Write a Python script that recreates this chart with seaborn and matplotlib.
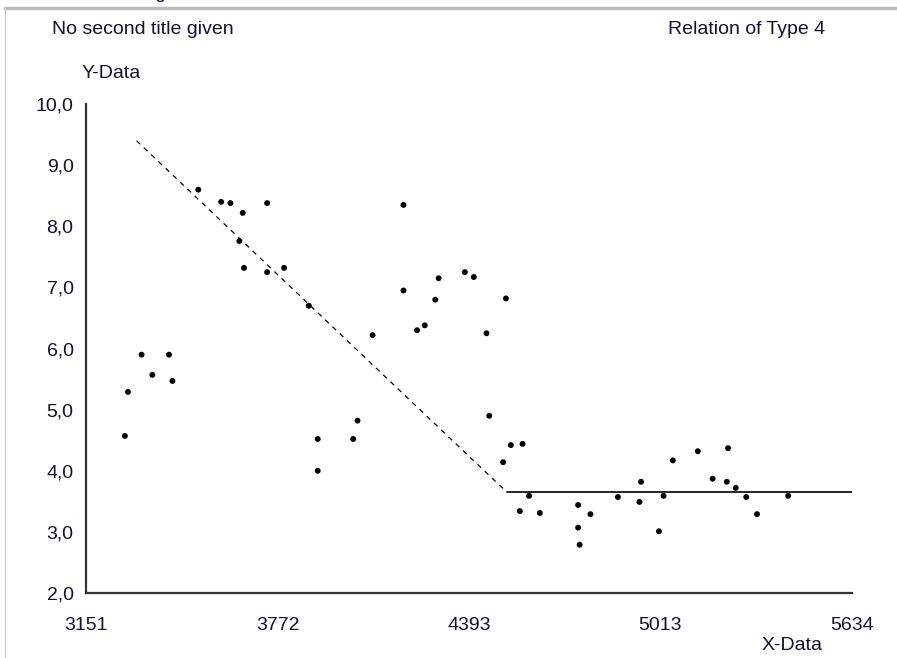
import numpy as np
import pandas as pd
import matplotlib
matplotlib.use("Agg")
import matplotlib.pyplot as plt
import matplotlib.lines as mlines
import seaborn as sns

# scatter data
x_data = [3277, 3287, 3331, 3366, 3420, 3431, 3515, 3589, 3619, 3659, 3648,
          3663, 3738, 3738, 3793, 3873, 3902, 3902, 4017, 4031, 4080, 4180,
          4180, 4224, 4249, 4283, 4294, 4379, 4408, 4449, 4512, 4458, 4503,
          4528, 4566, 4587, 4557, 4622, 4746, 4746, 4751, 4786, 4875, 4945,
          4950, 5008, 5023, 5053, 5134, 5182, 5228, 5232, 5257, 5291, 5326,
          5427]
y_data = [4.57, 5.29, 5.90, 5.57, 5.90, 5.47, 8.60, 8.40, 8.38, 8.22, 7.76,
          7.32, 8.38, 7.25, 7.32, 6.70, 4.52, 4.00, 4.52, 4.82, 6.22, 8.35,
          6.95, 6.30, 6.38, 6.80, 7.15, 7.25, 7.17, 6.25, 6.82, 4.90, 4.14,
          4.42, 4.44, 3.59, 3.34, 3.31, 3.44, 3.07, 2.79, 3.29, 3.57, 3.49,
          3.82, 3.01, 3.59, 4.17, 4.32, 3.87, 3.82, 4.37, 3.72, 3.57, 3.29,
          3.59]

# relation of type 4: falling segment then constant
fall_x = [3315, 4515]
fall_y = [9.40, 3.65]
flat_x = [4515, 5634]
flat_y = [3.65, 3.65]

x_ticks = [3151, 3772, 4393, 5013, 5634]
y_ticks = [2, 3, 4, 5, 6, 7, 8, 9, 10]
y_tick_labels = ["2,0", "3,0", "4,0", "5,0", "6,0", "7,0", "8,0", "9,0", "10,0"]

sns.set_style("white")
plt.rcParams['font.family'] = ['Liberation Sans', 'DejaVu Sans']

fig = plt.figure(figsize=(8.97, 6.58), dpi=100)
ax = fig.add_axes([0.0959, 0.0988, 0.854, 0.743])

df = pd.DataFrame({"x": x_data, "y": y_data})
sns.scatterplot(data=df, x="x", y="y", ax=ax, color="black", s=18,
                marker="o", edgecolor="none", legend=False)
sns.lineplot(x=fall_x, y=fall_y, ax=ax, color="black", lw=0.9,
             linestyle=(0, (4, 4)), estimator=None)
sns.lineplot(x=flat_x, y=flat_y, ax=ax, color="black", lw=1.2,
             estimator=None)

ax.set_xlim(3151, 5634)
ax.set_ylim(2, 10)
ax.set_xticks(x_ticks)
ax.set_xticklabels([str(v) for v in x_ticks])
ax.set_yticks(y_ticks)
ax.set_yticklabels(y_tick_labels)
ax.set_xlabel("")
ax.set_ylabel("")

for side in ["top", "right"]:
    ax.spines[side].set_visible(False)
for side in ["left", "bottom"]:
    ax.spines[side].set_color("#333333")
    ax.spines[side].set_linewidth(1.6)

ax.tick_params(axis="both", direction="out", length=5, width=1.2,
               color="#333333", labelsize=14, labelcolor="#111133")
ax.tick_params(axis="x", pad=12)
ax.tick_params(axis="y", pad=4)

txt = dict(fontsize=14, va="center", color="#111133")
fig.text(52 / 897, 1 - 30 / 658, "No second title given", ha="left", **txt)
fig.text(825 / 897, 1 - 30 / 658, "Relation of Type 4", ha="right", **txt)
fig.text(82 / 897, 1 - 73 / 658, "Y-Data", ha="left", **txt)
fig.text(823 / 897, 1 - 645 / 658, "X-Data", ha="right", **txt)
# first title, mostly cut off by the window edge
fig.text(52 / 897, 1 + 6 / 658, "No first title given", ha="left", **txt)

# window frame lines
fig.add_artist(mlines.Line2D([5 / 897, 1], [1 - 8 / 658, 1 - 8 / 658],
                             transform=fig.transFigure, color="#bbbbbb", lw=2.5))
fig.add_artist(mlines.Line2D([5 / 897, 5 / 897], [0, 1 - 8 / 658],
                             transform=fig.transFigure, color="#cccccc", lw=1))

fig.savefig("out.png", dpi=100)
